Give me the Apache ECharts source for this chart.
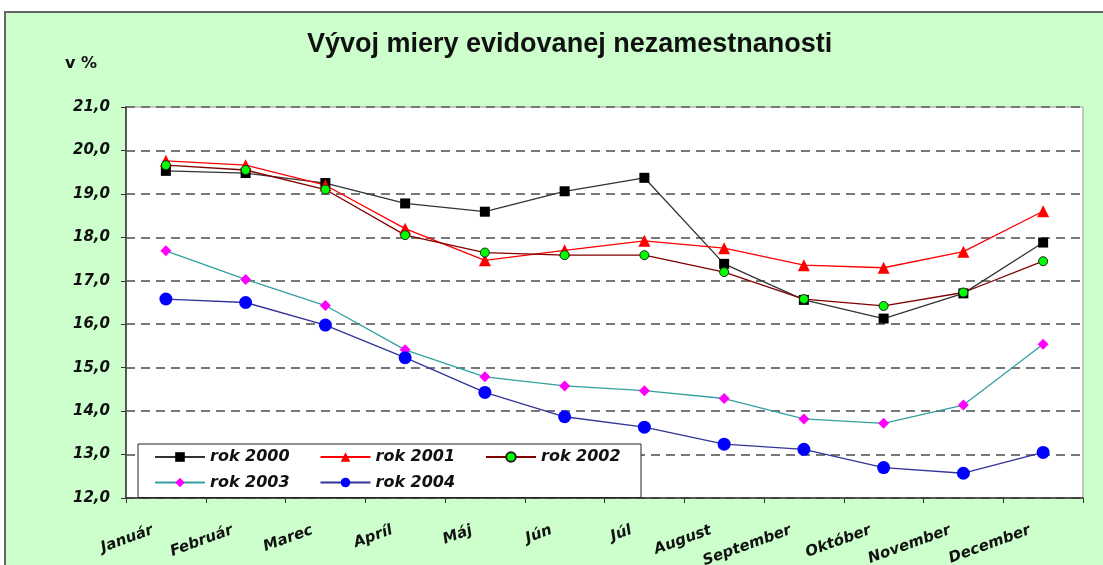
<!DOCTYPE html>
<html>
<head>
<meta charset="utf-8">
<script src="https://cdn.jsdelivr.net/npm/echarts@6/dist/echarts.min.js"></script>
<style>
  html, body { margin: 0; padding: 0; background: #fff; }
  #chart { width: 1103px; height: 565px; }
</style>
</head>
<body>
<div id="chart"></div>
<script>
const months = ['Január', 'Február', 'Marec', 'Apríl', 'Máj', 'Jún', 'Júl', 'August', 'September', 'Október', 'November', 'December']
const rok2000 = [19.53, 19.48, 19.25, 18.78, 18.59, 19.06, 19.37, 17.39, 16.56, 16.13, 16.71, 17.88]
const rok2001 = [19.76, 19.66, 19.2, 18.2, 17.47, 17.7, 17.92, 17.75, 17.36, 17.3, 17.67, 18.6]
const rok2002 = [19.66, 19.55, 19.1, 18.05, 17.65, 17.59, 17.59, 17.2, 16.58, 16.42, 16.73, 17.45]
const rok2003 = [17.69, 17.03, 16.43, 15.41, 14.79, 14.58, 14.47, 14.29, 13.82, 13.72, 14.14, 15.54]
const rok2004 = [16.58, 16.5, 15.98, 15.23, 14.43, 13.87, 13.63, 13.24, 13.12, 12.7, 12.57, 13.05]

const titleFont = '"Liberation Sans", Arial, sans-serif'
const font = '"DejaVu Sans", sans-serif'

const chart = echarts.init(document.getElementById('chart'))

function line(name, data, color, symbol, size, fill, border) {
    return {
        name: name,
        type: 'line',
        data: data,
        symbol: symbol,
        symbolSize: size,
        lineStyle: { color: color, width: 1.3 },
        itemStyle: { color: fill, borderColor: border || fill, borderWidth: border ? 1 : 0 },
        emphasis: { disabled: true }
    }
}

chart.setOption({
    animation: false,
    graphic: [{
        type: 'rect',
        z: -100,
        shape: { x: 5, y: 12, width: 1110, height: 560 },
        style: { fill: '#ccffcc', stroke: '#666', lineWidth: 2 }
    }, {
        type: 'text',
        left: 65,
        top: 56,
        style: { text: 'v %', font: 'bold 16px ' + font, fill: '#111' }
    }],
    title: {
        text: 'Vývoj miery evidovanej nezamestnanosti',
        left: 302,
        top: 26,
        textStyle: { fontFamily: titleFont, fontSize: 27, fontWeight: 'bold', color: '#111' }
    },
    grid: {
        left: 126, right: 20, top: 107, bottom: 67,
        outerBoundsMode: 'none',
        containLabel: false,
        show: true,
        backgroundColor: '#fff',
        borderColor: '#999',
        borderWidth: 1
    },
    legend: {
        left: 138,
        top: 444,
        width: 520,
        orient: 'horizontal',
        itemWidth: 50,
        itemHeight: 12,
        itemGap: 9.5,
        padding: [5, 0, 7, 16],
        backgroundColor: '#fff',
        borderColor: '#222',
        borderWidth: 1,
        data: ['rok 2000', 'rok 2001', 'rok 2002', 'rok 2003', 'rok 2004'],
        textStyle: {
            fontFamily: font, fontSize: 16, fontWeight: 'bold', fontStyle: 'italic',
            color: '#111', width: 100, lineHeight: 12
        }
    },
    xAxis: {
        type: 'category',
        data: months,
        boundaryGap: true,
        axisLine: { lineStyle: { color: '#333', width: 1.5 } },
        axisTick: { show: true, length: 5, lineStyle: { color: '#333' } },
        axisLabel: {
            interval: 0,
            rotate: 20,
            margin: 27,
            padding: [0, 14, 0, 0],
            fontFamily: font, fontSize: 15, fontWeight: 'bold', fontStyle: 'italic', color: '#111'
        }
    },
    yAxis: {
        type: 'value',
        min: 12,
        max: 21,
        interval: 1,
        axisLine: { show: true, lineStyle: { color: '#555', width: 2 } },
        axisTick: { show: true, length: 5, lineStyle: { color: '#333' } },
        axisLabel: {
            margin: 16,
            fontFamily: font, fontSize: 15, fontWeight: 'bold', fontStyle: 'italic', color: '#111',
            formatter: v => v.toFixed(1).replace('.', ',')
        },
        splitLine: { lineStyle: { color: '#777', type: [9, 6], width: 2 } }
    },
    series: [
        line('rok 2000', rok2000, '#333', 'rect', 10, '#000'),
        line('rok 2001', rok2001, '#ff0000', 'triangle', 12, '#ff0000'),
        line('rok 2002', rok2002, '#800000', 'circle', 9, '#00ff00', '#222'),
        line('rok 2003', rok2003, '#33a0a0', 'diamond', 11, '#ff00ff'),
        line('rok 2004', rok2004, '#333399', 'circle', 13, '#0000ff')
    ]
})
</script>
</body>
</html>
